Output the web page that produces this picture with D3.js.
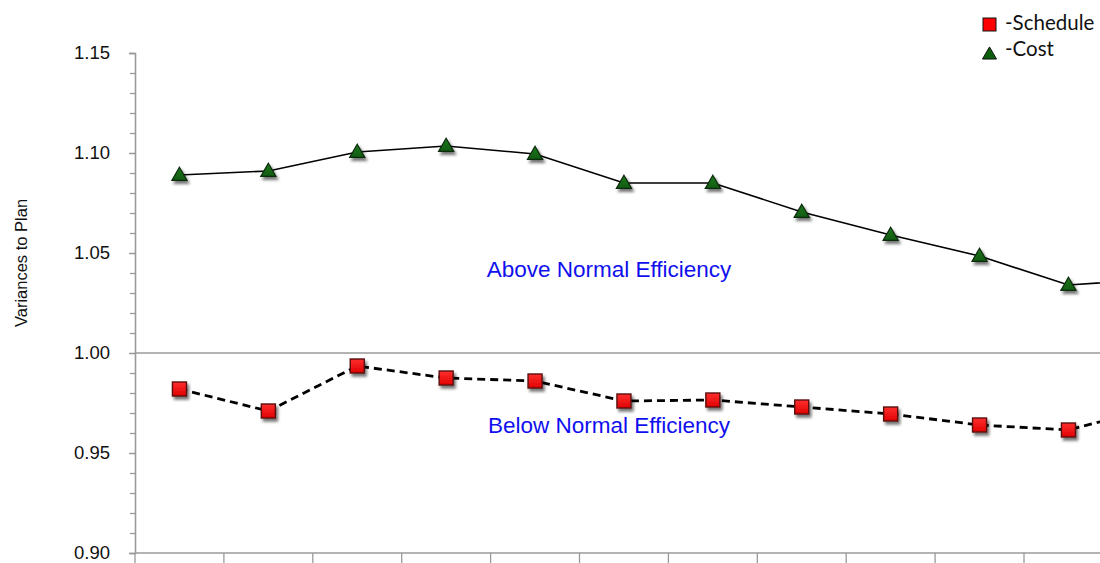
<!DOCTYPE html>
<html>
<head>
<meta charset="utf-8">
<script src="https://cdn.jsdelivr.net/npm/d3@7"></script>
<style>
  html, body { margin: 0; padding: 0; background: #fff; }
  svg { display: block; }
</style>
</head>
<body>
<div id="chart"></div>
<script>
// Reporting periods (unlabelled on the axis)
const periods = ["P1", "P2", "P3", "P4", "P5", "P6", "P7", "P8", "P9", "P10", "P11", "P12"];

// Performance indices per period
const costIndex = [1.089, 1.091, 1.1005, 1.1035, 1.0995, 1.085, 1.085, 1.0705, 1.059, 1.0485, 1.034, 1.037];
const scheduleIndex = [0.982, 0.971, 0.9935, 0.9875, 0.986, 0.976, 0.9765, 0.973, 0.9695, 0.964, 0.9615, 0.973];

// Value axis ticks
const yMajorTicks = [0.90, 0.95, 1.00, 1.05, 1.10, 1.15];
const yMinorTicks = d3.range(90, 116).map(v => v / 100);
const baselineValue = 1.00;

const width = 1100, height = 563;
const svg = d3.select("#chart").append("svg")
  .attr("width", width).attr("height", height);

const defs = svg.append("defs");
const shadow = defs.append("filter").attr("id", "markerShadow")
  .attr("x", "-50%").attr("y", "-50%").attr("width", "220%").attr("height", "220%");
shadow.append("feGaussianBlur").attr("in", "SourceAlpha").attr("stdDeviation", 1.6).attr("result", "b");
shadow.append("feOffset").attr("in", "b").attr("dx", 1.5).attr("dy", 3).attr("result", "o");
shadow.append("feComponentTransfer").attr("in", "o").attr("result", "s")
  .append("feFuncA").attr("type", "linear").attr("slope", 0.55);
const merge = shadow.append("feMerge");
merge.append("feMergeNode").attr("in", "s");
merge.append("feMergeNode").attr("in", "SourceGraphic");

const redGrad = defs.append("linearGradient").attr("id", "redFill")
  .attr("x1", 0).attr("y1", 0).attr("x2", 0).attr("y2", 1);
redGrad.append("stop").attr("offset", "0%").attr("stop-color", "#ff3030");
redGrad.append("stop").attr("offset", "100%").attr("stop-color", "#e00000");

const greenGrad = defs.append("linearGradient").attr("id", "greenFill")
  .attr("x1", 0).attr("y1", 0).attr("x2", 0).attr("y2", 1);
greenGrad.append("stop").attr("offset", "0%").attr("stop-color", "#1f7a1f");
greenGrad.append("stop").attr("offset", "100%").attr("stop-color", "#0f5a10");

const plotLeft = 135, plotBottom = 553, plotTop = 53;
const x = d3.scaleBand().domain(periods).range([plotLeft, plotLeft + 88.9 * periods.length]);
const y = d3.scaleLinear().domain([0.90, 1.15]).range([plotBottom, plotTop]);
const cx = p => x(p) + x.bandwidth() / 2;

const axisColor = "#9a9a9a";

// Minor ticks on the value axis
const minor = svg.append("g").attr("transform", `translate(${plotLeft},0)`)
  .call(d3.axisLeft(y).tickValues(yMinorTicks).tickSize(5).tickFormat(""));
minor.select(".domain").remove();
minor.selectAll("line").attr("stroke", axisColor).attr("stroke-width", 1.3);

// Major ticks with labels
const yAxis = svg.append("g").attr("transform", `translate(${plotLeft},0)`)
  .call(d3.axisLeft(y).tickValues(yMajorTicks).tickSize(6).tickPadding(19).tickFormat(d3.format(".2f")));
yAxis.select(".domain").attr("stroke", axisColor).attr("stroke-width", 1.6);
yAxis.selectAll("line").attr("stroke", axisColor).attr("stroke-width", 1.3);
yAxis.selectAll("text").attr("fill", "#111").style("font-family", "'Liberation Sans', Arial, sans-serif").style("font-size", "18.5px");

// Category axis along the bottom
const xAxis = svg.append("g").attr("transform", `translate(0,${plotBottom})`)
  .call(d3.axisBottom(x).tickSize(10).tickFormat(""));
xAxis.select(".domain").attr("stroke", axisColor).attr("stroke-width", 1.6).attr("d", `M${plotLeft},0H${width + 200}`);
xAxis.selectAll(".tick").attr("transform", d => `translate(${x(d)},0)`);
xAxis.selectAll("line").attr("stroke", axisColor).attr("stroke-width", 1.3);

// Parity line at 1.00
svg.append("line")
  .attr("x1", plotLeft).attr("x2", width)
  .attr("y1", y(baselineValue)).attr("y2", y(baselineValue))
  .attr("stroke", axisColor).attr("stroke-width", 1.4);

// Axis title
svg.append("text")
  .attr("transform", `translate(27,${263}) rotate(-90)`)
  .attr("text-anchor", "middle")
  .style("font-family", "'Liberation Sans', Arial, sans-serif").style("font-size", "16.5px")
  .attr("fill", "#111")
  .text("Variances to Plan");

// Region annotations
const noteStyle = sel => sel.attr("text-anchor", "middle").attr("fill", "#1010ee")
  .style("font-family", "'Liberation Sans', Arial, sans-serif").style("font-size", "22.5px");
svg.append("text").attr("x", 609).attr("y", 277).call(noteStyle).text("Above Normal Efficiency");
svg.append("text").attr("x", 609).attr("y", 433).call(noteStyle).text("Below Normal Efficiency");

const line = d3.line().x(d => cx(d.p)).y(d => y(d.v));
const costData = periods.map((p, i) => ({ p, v: costIndex[i] }));
const schedData = periods.map((p, i) => ({ p, v: scheduleIndex[i] }));

svg.append("path").datum(costData).attr("d", line)
  .attr("fill", "none").attr("stroke", "#000").attr("stroke-width", 1.6);
svg.append("path").datum(schedData).attr("d", line)
  .attr("fill", "none").attr("stroke", "#000").attr("stroke-width", 2.8)
  .attr("stroke-dasharray", "8,5");

const tri = d3.symbol().type(d3.symbolTriangle).size(100);

svg.append("g").selectAll("path").data(costData).join("path")
  .attr("transform", d => `translate(${cx(d.p)},${y(d.v) + 1})`)
  .attr("d", tri)
  .attr("fill", "url(#greenFill)").attr("stroke", "#0b2a0b").attr("stroke-width", 1.2)
  .attr("filter", "url(#markerShadow)");

svg.append("g").selectAll("rect").data(schedData).join("rect")
  .attr("x", d => cx(d.p) - 7).attr("y", d => y(d.v) - 7)
  .attr("width", 14).attr("height", 14)
  .attr("fill", "url(#redFill)").attr("stroke", "#5a1010").attr("stroke-width", 1.4)
  .attr("filter", "url(#markerShadow)");

// Legend
const legend = svg.append("g");
legend.append("rect").attr("x", 983).attr("y", 18).attr("width", 13).attr("height", 13)
  .attr("fill", "#ff0000").attr("stroke", "#111").attr("stroke-width", 1);
legend.append("path").attr("transform", "translate(989.5,55)").attr("d", d3.symbol().type(d3.symbolTriangle).size(85))
  .attr("fill", "#0d5e0d").attr("stroke", "#111").attr("stroke-width", 1);
const legText = sel => sel.attr("fill", "#111").style("font-family", "Lato, 'Open Sans', sans-serif").style("font-size", "20.5px");
legend.append("text").attr("x", 1005).attr("y", 30).call(legText).text("-Schedule");
legend.append("text").attr("x", 1005).attr("y", 56).call(legText).text("-Cost");
</script>
</body>
</html>
